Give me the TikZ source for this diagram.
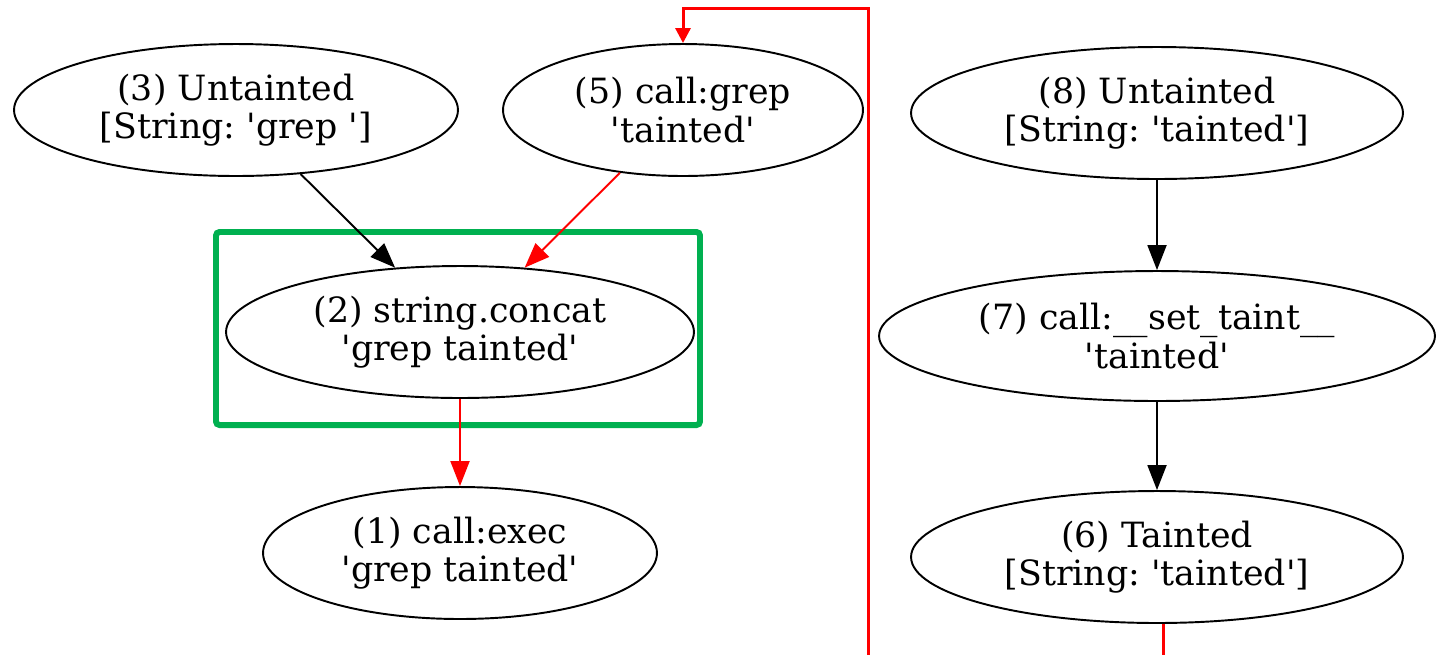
\documentclass[tikz,border=0pt]{standalone}
\usepackage{fontspec}
\setmainfont{DejaVu Serif}[Ligatures=TeXOff]
\usetikzlibrary{shapes.geometric}
\usetikzlibrary{arrows.meta}

\tikzset{
  flownode/.style={ellipse, draw, line width=1.1pt, inner sep=0pt, align=center, font=\fontsize{19.8}{22}\selectfont},
  flow/.style={line width=1.1pt, -{Triangle[length=0.5cm, width=0.38cm]}},
  taint/.style={flow, red},
  loopback/.style={red, line width=1.7pt, -{Triangle[length=0.3cm, width=0.3cm]}}
}

\begin{document}
\frenchspacing
\begin{tikzpicture}[x=0.02cm, y=-0.02cm]
\useasboundingbox (0,0) rectangle (1443,654);
\clip (0,0) rectangle (1443,654);
\draw[color={rgb,255:red,0;green,176;blue,80}, line width=3.4pt, rounded corners=2pt] (216,232) rectangle (700,425);
\node[flownode, minimum width=8.88cm, minimum height=2.64cm] (n3) at (236,110) {(3) Untainted\\{}[String: 'grep ']};
\node[flownode, minimum width=7.2cm, minimum height=2.64cm] (n5) at (683,110) {(5) call:grep\\'tainted'};
\node[flownode, minimum width=9.36cm, minimum height=2.64cm] (n2) at (460,332) {(2) string.concat\\'grep tainted'};
\node[flownode, minimum width=7.88cm, minimum height=2.64cm] (n1) at (460,553) {(1) call:exec\\'grep tainted'};
\node[flownode, minimum width=9.84cm, minimum height=2.64cm] (n8) at (1157,113) {(8) Untainted\\{}[String: 'tainted']};
\node[flownode, minimum width=11.12cm, minimum height=2.6cm] (n7) at (1157,336) {(7) call:\_\_set\_taint\_\_\\'tainted'};
\node[flownode, minimum width=9.84cm, minimum height=2.64cm] (n6) at (1157,557) {(6) Tainted\\{}[String: 'tainted']};
\coordinate (lowbend) at (868,700);
\coordinate (topbend) at (868,8);
\draw[flow] (n3) -- (n2);
\draw[taint] (n5) -- (n2);
\draw[taint] (n2) -- (n1);
\draw[flow] (n8) -- (n7);
\draw[flow] (n7) -- (n6);
\draw[loopback] ([xshift=0.12cm]n6.south) |- (lowbend) -- (topbend) -| (n5.north);
\end{tikzpicture}
\end{document}
